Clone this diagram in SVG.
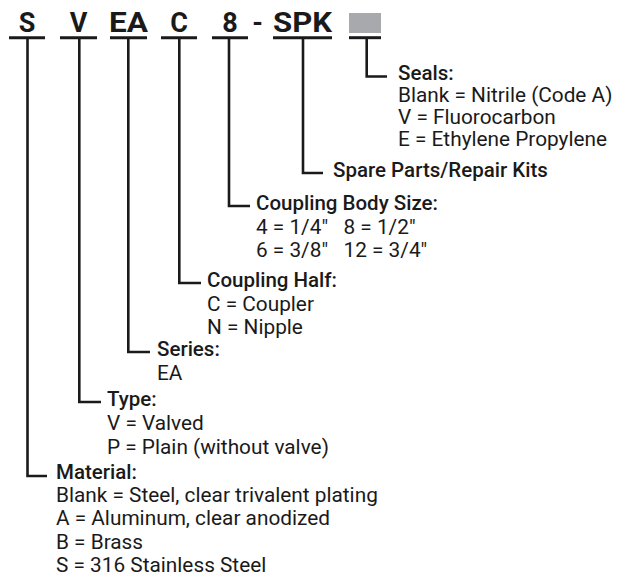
<svg xmlns="http://www.w3.org/2000/svg" width="631" height="577" viewBox="0 0 631 577">
<style>
.code{font-family:Roboto,"Liberation Sans",sans-serif;font-weight:bold;font-size:27px;fill:#1a1a1a;text-anchor:middle}
.h{font-family:Roboto,"Liberation Sans",sans-serif;font-weight:500;font-size:20.5px;fill:#1a1a1a}
.t{font-family:Roboto,"Liberation Sans",sans-serif;font-weight:normal;font-size:20.8px;fill:#1a1a1a}
.ul{stroke:#1a1a1a;stroke-width:3;fill:none}
.ln{stroke:#1a1a1a;stroke-width:2.6;fill:none;stroke-linejoin:miter;stroke-linecap:butt}
</style>
<rect width="631" height="577" fill="#ffffff"/>
<g id="code">
<text class="code" x="27" y="32">S</text>
<text class="code" x="78.5" y="32">V</text>
<text class="code" x="128.5" y="32" textLength="39" lengthAdjust="spacingAndGlyphs">EA</text>
<text class="code" x="179" y="32">C</text>
<text class="code" x="230" y="32">8</text>
<text class="code" x="257.5" y="32">-</text>
<text class="code" x="302.5" y="32" textLength="59" lengthAdjust="spacingAndGlyphs">SPK</text>
<rect x="349" y="13" width="32" height="20" fill="#a7a9ac"/>
</g>
<g id="connectors">
<line class="ul" x1="9" y1="37.7" x2="45" y2="37.7"/>
<line class="ul" x1="60" y1="37.7" x2="97" y2="37.7"/>
<line class="ul" x1="110" y1="37.7" x2="147" y2="37.7"/>
<line class="ul" x1="161" y1="37.7" x2="197" y2="37.7"/>
<line class="ul" x1="212" y1="37.7" x2="248" y2="37.7"/>
<line class="ul" x1="273" y1="37.7" x2="332" y2="37.7"/>
<line class="ul" x1="349" y1="37.7" x2="381" y2="37.7"/>
<path class="ln" d="M366.7 37.7 V76.5 H387"/>
<path class="ln" d="M303 37.7 V173 H323"/>
<path class="ln" d="M229 37.7 V206 H250"/>
<path class="ln" d="M179.3 37.7 V283 H201"/>
<path class="ln" d="M128.3 37.7 V352 H150"/>
<path class="ln" d="M79.3 37.7 V402 H101"/>
<path class="ln" d="M27.5 37.7 V476 H47"/>
</g>
<g id="seals">
<text class="h" x="398" y="80">Seals:</text>
<text class="t" x="398" y="102">Blank = Nitrile (Code A)</text>
<text class="t" x="398" y="124">V = Fluorocarbon</text>
<text class="t" x="398" y="146">E = Ethylene Propylene</text>
</g>
<g id="spare">
<text class="h" x="333" y="177">Spare Parts/Repair Kits</text>
</g>
<g id="body-size">
<text class="h" x="256" y="210">Coupling Body Size:</text>
<text class="t" x="256" y="234" xml:space="preserve">4 = 1/4"   8 = 1/2"</text>
<text class="t" x="256" y="257" xml:space="preserve">6 = 3/8"   12 = 3/4"</text>
</g>
<g id="coupling-half">
<text class="h" x="207" y="287">Coupling Half:</text>
<text class="t" x="207" y="311">C = Coupler</text>
<text class="t" x="207" y="334">N = Nipple</text>
</g>
<g id="series">
<text class="h" x="157" y="356">Series:</text>
<text class="t" x="157" y="380">EA</text>
</g>
<g id="type">
<text class="h" x="107" y="406">Type:</text>
<text class="t" x="107" y="430">V = Valved</text>
<text class="t" x="107" y="454">P = Plain (without valve)</text>
</g>
<g id="material">
<text class="h" x="56" y="479">Material:</text>
<text class="t" x="56" y="502">Blank = Steel, clear trivalent plating</text>
<text class="t" x="56" y="525">A = Aluminum, clear anodized</text>
<text class="t" x="56" y="549">B = Brass</text>
<text class="t" x="56" y="572">S = 316 Stainless Steel</text>
</g>
</svg>
